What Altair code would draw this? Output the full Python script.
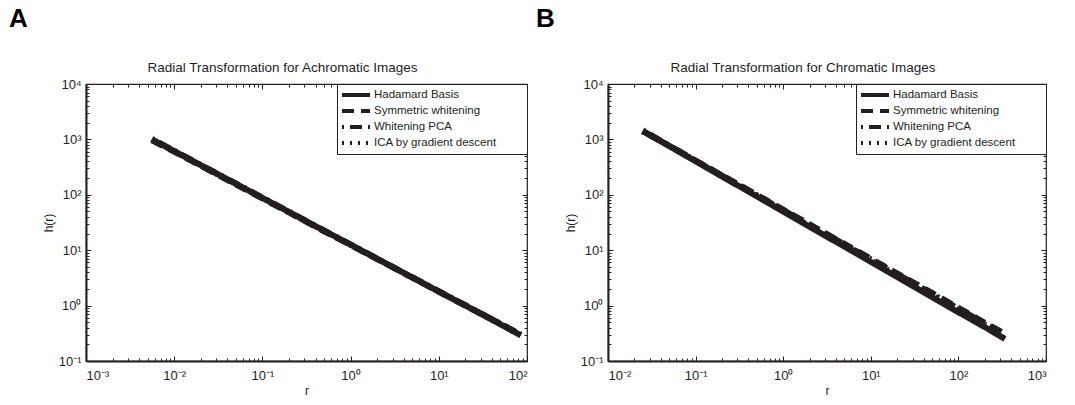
import altair as alt
import pandas as pd

INK = "#231f20"
FONT = "Liberation Sans"

series_names = ["Hadamard Basis", "Symmetric whitening", "Whitening PCA", "ICA by gradient descent"]
dash_patterns = [[1, 0], [12, 7], [2, 6, 12, 6], [2, 6]]

# Panel A (achromatic)
rA = [0.0056, 0.01, 0.02, 0.05, 0.1, 0.2, 0.5, 1, 2, 5, 10, 20, 50, 85]
A_hadamard = [1000, 615, 342, 158, 88, 49, 22.5, 12.6, 7.0, 3.22, 1.79, 1.0, 0.46, 0.29]
A_symmetric = [960, 600, 335, 154, 86, 48, 22.0, 12.4, 6.9, 3.2, 1.78, 1.0, 0.47, 0.30]
A_pca = [1020, 625, 346, 160, 89, 49.5, 22.7, 12.7, 7.05, 3.25, 1.82, 1.02, 0.47, 0.30]
A_ica = [990, 610, 340, 157, 87.5, 48.5, 22.3, 12.5, 6.95, 3.22, 1.80, 1.01, 0.465, 0.295]

# Panel B (chromatic)
rB = [0.025, 0.05, 0.1, 0.2, 0.5, 1, 2, 5, 10, 20, 50, 100, 200, 340]
B_hadamard = [1413, 755, 403, 215, 93.5, 49.8, 26.5, 11.6, 6.15, 3.28, 1.43, 0.76, 0.41, 0.25]
B_symmetric = [1413, 767, 415, 225, 99.8, 54, 29.2, 13.0, 7.02, 3.80, 1.69, 0.91, 0.49, 0.31]
B_pca = [1450, 770, 412, 222, 98, 53, 28.6, 12.7, 6.85, 3.7, 1.64, 0.88, 0.475, 0.30]
B_ica = [1400, 760, 408, 219, 96, 51.5, 27.6, 12.2, 6.55, 3.5, 1.55, 0.83, 0.45, 0.28]

A_x_domain = [1e-3, 1e2]
B_x_domain = [1e-2, 1e3]
y_domain = [1e-1, 1e4]

SUP = "['⁻³','⁻²','⁻¹','⁰','¹','²','³','⁴']"
LABEL_EXPR = "'10' + " + SUP + "[round(log(datum.value)/LN10)+3]"
PAD = "\u2800" * 3


def decades(lo_exp, hi_exp):
    return [10.0 ** e for e in range(lo_exp, hi_exp + 1)]


def minors(lo_exp, hi_exp):
    return [m * 10.0 ** e for e in range(lo_exp, hi_exp) for m in range(2, 10)]


def long_df(r, cols):
    rows = []
    for name, vals in zip(series_names, cols):
        for x, y in zip(r, vals):
            rows.append({"r": x, "h": y, "series": name})
    return pd.DataFrame(rows)


def panel(df, xdom, xexp, title, letter, width, letter_dx):
    xs = alt.Scale(type="log", domain=xdom, nice=False)
    ys = alt.Scale(type="log", domain=y_domain, nice=False)
    lines = alt.Chart(df).mark_line(strokeWidth=6, color=INK, strokeCap="butt", clip=True).encode(
        x=alt.X("r:Q", scale=xs, title="r",
                axis=alt.Axis(values=decades(*xexp), labelExpr=LABEL_EXPR, ticks=False,
                              domain=True, domainColor=INK, domainWidth=2, grid=False,
                              labelPadding=8, labelFontSize=13, labelFont=FONT, labelColor=INK,
                              titleFont=FONT, titleFontSize=12, titleFontWeight="normal",
                              titleColor=INK, titlePadding=3)),
        y=alt.Y("h:Q", scale=ys, title="h(r)",
                axis=alt.Axis(values=decades(-1, 4), labelExpr=LABEL_EXPR, ticks=False,
                              domain=True, domainColor=INK, domainWidth=2, grid=False,
                              labelPadding=5, labelFontSize=13, labelFont=FONT, labelColor=INK,
                              titleFont=FONT, titleFontSize=12, titleFontWeight="normal",
                              titleColor=INK, titlePadding=3)),
        strokeDash=alt.StrokeDash("series:N", sort=series_names,
                                  scale=alt.Scale(domain=series_names, range=dash_patterns),
                                  legend=alt.Legend(orient="top-right", offset=0, title=None,
                                                    strokeColor=INK, fillColor="white", padding=3,
                                                    labelFont=FONT, labelFontSize=11.5, labelColor=INK,
                                                    symbolType="M-1,0H3.67", symbolStrokeWidth=4,
                                                    symbolSize=144, symbolStrokeColor=INK,
                                                    symbolFillColor="transparent",
                                                    labelLimit=0, rowPadding=0, labelOffset=18,
                                                    labelExpr="datum.label + '" + PAD + "'")),
    )

    dummy = pd.DataFrame({"r": [xdom[0]], "h": [y_domain[0]]})

    def tick_layer(orient_x, orient_y, vals_x, vals_y, size):
        ax = alt.Axis(orient=orient_x, values=vals_x, labels=False, domain=False, grid=False,
                      ticks=True, tickSize=size, offset=-size, tickColor=INK, tickWidth=1, title=None)
        ay = alt.Axis(orient=orient_y, values=vals_y, labels=False, domain=False, grid=False,
                      ticks=True, tickSize=size, offset=-size, tickColor=INK, tickWidth=1, title=None)
        return alt.Chart(dummy).mark_point(opacity=0).encode(
            x=alt.X("r:Q", scale=xs, axis=ax),
            y=alt.Y("h:Q", scale=ys, axis=ay),
        )

    t1 = tick_layer("bottom", "left", decades(*xexp), decades(-1, 4), 5)
    t2 = tick_layer("bottom", "left", minors(*xexp), minors(-1, 4), 3)
    t3 = tick_layer("top", "right", decades(*xexp), decades(-1, 4), 5)
    t4 = tick_layer("top", "right", minors(*xexp), minors(-1, 4), 3)

    lab = alt.Chart(pd.DataFrame({"t": [letter]})).mark_text(
        font=FONT, fontSize=26, fontWeight="bold", color="black", align="left", baseline="top"
    ).encode(text="t:N", x=alt.value(letter_dx), y=alt.value(-78))

    ttl = alt.Chart(pd.DataFrame({"t": [title]})).mark_text(
        font=FONT, fontSize=13.5, color=INK, align="center", baseline="alphabetic"
    ).encode(text="t:N", x=alt.value(width / 2 - 24), y=alt.value(-12))

    return alt.layer(lines, t1, t2, t3, t4, lab, ttl).resolve_axis(
        x="independent", y="independent"
    ).properties(width=width, height=277)


dfA = long_df(rA, [A_hadamard, A_symmetric, A_pca, A_ica])
dfB = long_df(rB, [B_hadamard, B_symmetric, B_pca, B_ica])

pA = panel(dfA, A_x_domain, (-3, 2), "Radial Transformation for Achromatic Images", "A", 441, -77)
pB = panel(dfB, B_x_domain, (-2, 3), "Radial Transformation for Chromatic Images", "B", 438, -72)

chart = alt.hconcat(pA, pB, spacing=6).resolve_scale(strokeDash="independent").resolve_legend(
    strokeDash="independent"
).properties(
    padding={"left": 8, "top": 5, "right": 2, "bottom": 1},
    background="white",
).configure_view(stroke=INK, strokeWidth=1.2)

chart.save("out.html", embed_options={"renderer": "svg", "actions": False})
